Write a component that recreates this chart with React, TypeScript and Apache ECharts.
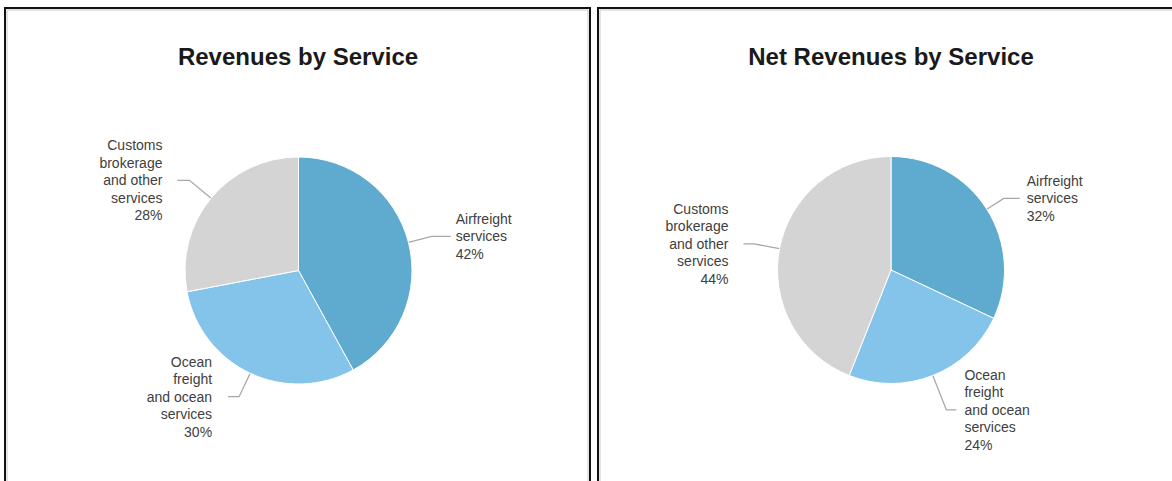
import React, { useEffect, useRef } from "react";
import * as echarts from "echarts";

// ---- Data ----
const categories = [
  "Airfreight\nservices",
  "Ocean\nfreight\nand ocean\nservices",
  "Customs\nbrokerage\nand other\nservices",
];
const revenuesShare = [42, 30, 28];
const netRevenuesShare = [32, 24, 44];
const titles = ["Revenues by Service", "Net Revenues by Service"];

// ---- Styles ----
const sliceColors = ["#5eabcf", "#85c4ea", "#d4d4d4"];
const leftLineLen = [24, 26, 28];
const leftLineLen2 = [19, 11, 12];
const leftGap = [5, 16, 15];
const rightLineLen = [20, 37, 26];
const rightLineLen2 = [16, 10, 10.5];
const rightGap = [7, 8, 15];

const FONT = '"Liberation Sans", Arial, Helvetica, sans-serif';

function buildData(values: number[], len: number[], len2: number[], gap: number[]) {
  return values.map((v, i) => ({
    name: categories[i],
    value: v,
    itemStyle: { color: sliceColors[i] },
    label: { distanceToLabelLine: gap[i] },
    labelLine: { length: len[i], length2: len2[i] },
  }));
}

function pieSeries(center: number[], data: any[]) {
  return {
    type: "pie",
    center,
    radius: 113.5,
    startAngle: 90,
    clockwise: true,
    silent: true,
    avoidLabelOverlap: false,
    itemStyle: { borderColor: "#ffffff", borderWidth: 1 },
    label: {
      show: true,
      position: "outside",
      formatter: (p: any) => `${p.name}\n${p.value}%`,
      fontFamily: FONT,
      fontSize: 14,
      lineHeight: 17.5,
      padding: [5, 0, 0, 0],
      color: "#404040",
    },
    labelLine: {
      show: true,
      smooth: false,
      lineStyle: { color: "#a8a8a8", width: 1.3 },
    },
    emphasis: { disabled: true },
    data,
  };
}

export default function App() {
  const ref = useRef<HTMLDivElement>(null);

  useEffect(() => {
    if (!ref.current) return;
    const chart = echarts.init(ref.current, undefined, { renderer: "svg" });
    const titleStyle = { fontFamily: FONT, fontSize: 24, fontWeight: "bold", color: "#1a1a1a" };
    chart.setOption({
      animation: false,
      backgroundColor: "#ffffff",
      title: [
        { text: titles[0], left: 298, top: 44, textAlign: "center", padding: 0, textStyle: titleStyle },
        { text: titles[1], left: 891, top: 44, textAlign: "center", padding: 0, textStyle: titleStyle },
      ],
      graphic: [
        {
          type: "rect",
          shape: { x: 5, y: 8, width: 585, height: 520 },
          style: { fill: "none", stroke: "#111111", lineWidth: 2 },
          silent: true,
        },
        {
          type: "rect",
          shape: { x: 7, y: 10, width: 581, height: 520 },
          style: { fill: "none", stroke: "#c8c8c8", lineWidth: 1 },
          silent: true,
        },
        {
          type: "rect",
          shape: { x: 598, y: 8, width: 620, height: 520 },
          style: { fill: "none", stroke: "#111111", lineWidth: 2 },
          silent: true,
        },
        {
          type: "rect",
          shape: { x: 600, y: 10, width: 620, height: 520 },
          style: { fill: "none", stroke: "#c8c8c8", lineWidth: 1 },
          silent: true,
        },
      ],
      series: [
        pieSeries([298.5, 270.5], buildData(revenuesShare, leftLineLen, leftLineLen2, leftGap)),
        pieSeries([891, 270], buildData(netRevenuesShare, rightLineLen, rightLineLen2, rightGap)),
      ],
    });
    return () => chart.dispose();
  }, []);

  return (
    <div
      ref={ref}
      style={{ position: "fixed", left: 0, top: 0, width: 1172, height: 481, background: "#fff" }}
    />
  );
}
